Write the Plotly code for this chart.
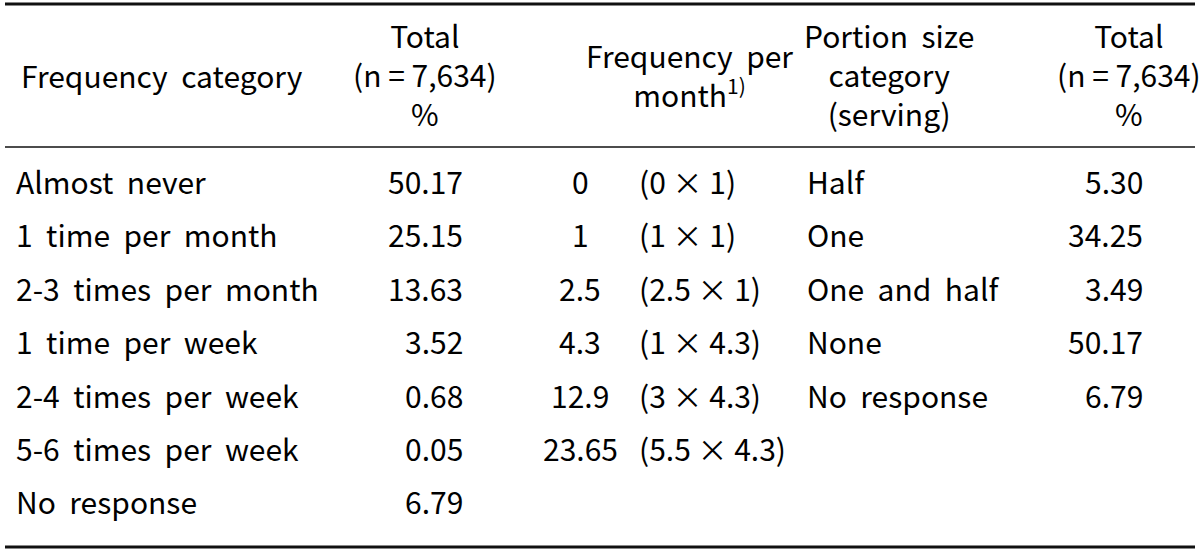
import plotly.graph_objects as go

# ---- data ----
freq_categories = ["Almost never", "1 time per month", "2-3 times per month",
                   "1 time per week", "2-4 times per week", "5-6 times per week",
                   "No response"]
freq_totals = ["50.17", "25.15", "13.63", "3.52", "0.68", "0.05", "6.79"]
freq_per_month = ["0", "1", "2.5", "4.3", "12.9", "23.65"]
freq_formula = ["(0 × 1)", "(1 × 1)", "(2.5 × 1)", "(1 × 4.3)", "(3 × 4.3)", "(5.5 × 4.3)"]
portion_categories = ["Half", "One", "One and half", "None", "No response"]
portion_totals = ["5.30", "34.25", "3.49", "50.17", "6.79"]

header_freq_cat = "Frequency category"
header_total = ["Total", "(n = 7,634)", "%"]
header_freq_month = ["Frequency per", "month<sup>1)</sup>"]
header_portion = ["Portion size", "category", "(serving)"]

FONT = "Noto Sans CJK KR"
SIZE = 30
GAP = " \u00a0"


def wide(s, gap=GAP):
    return s.replace(" ", gap)


fig = go.Figure()
ann = []


def add(x, y, text, anchor):
    ann.append(dict(x=x, y=y, xref="x", yref="y", text=text,
                    showarrow=False, xanchor=anchor, yanchor="middle",
                    align="center", borderpad=0,
                    font=dict(family=FONT, size=SIZE, color="#000000")))


# header
add(20, 75, wide(header_freq_cat), "left")
add(425, 73.5, "<br>".join(header_total), "center")
add(1129, 73.5, "<br>".join(header_total), "center")
add(689, 74, "<br>".join(wide(t) for t in header_freq_month), "center")
add(889, 73.5, "<br>".join(wide(t) for t in header_portion), "center")

row_y0 = 181
row_dy = 53.4
for i, (c, v) in enumerate(zip(freq_categories, freq_totals)):
    y = row_y0 + i * row_dy
    add(15, y, wide(c), "left")
    add(464, y, v, "right")
for i, (m, f) in enumerate(zip(freq_per_month, freq_formula)):
    y = row_y0 + i * row_dy
    add(580, y, m, "center")
    add(638, y, f, "left")
for i, (c, v) in enumerate(zip(portion_categories, portion_totals)):
    y = row_y0 + i * row_dy
    add(806, y, wide(c), "left")
    add(1144, y, v, "right")

shapes = [
    dict(type="line", xref="x", yref="y", x0=5, x1=1195, y0=4, y1=4,
         line=dict(color="#111111", width=3)),
    dict(type="line", xref="x", yref="y", x0=5, x1=1195, y0=147, y1=147,
         line=dict(color="#111111", width=1.5)),
    dict(type="line", xref="x", yref="y", x0=5, x1=1195, y0=547, y1=547,
         line=dict(color="#111111", width=3)),
]

fig.add_trace(go.Scatter(x=[0, 1200], y=[0, 556], mode="markers",
                         marker=dict(opacity=0, size=1), hoverinfo="skip", showlegend=False))

fig.update_layout(
    width=1200, height=556,
    margin=dict(l=0, r=0, t=0, b=0),
    paper_bgcolor="white", plot_bgcolor="white",
    xaxis=dict(range=[0, 1200], visible=False, fixedrange=True),
    yaxis=dict(range=[556, 0], visible=False, fixedrange=True),
    annotations=ann, shapes=shapes, showlegend=False,
)

fig.write_html("out.html", config={"displayModeBar": False},
               post_script="document.body.style.margin='0';document.body.style.overflow='hidden';")
